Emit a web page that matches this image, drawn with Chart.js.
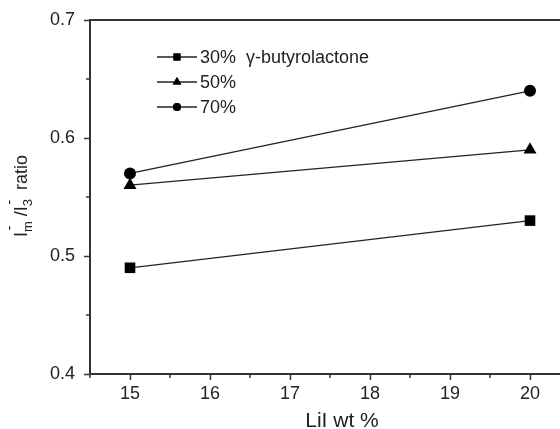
<!DOCTYPE html>
<html>
<head>
<meta charset="utf-8">
<script src="https://cdn.jsdelivr.net/npm/chart.js@4/dist/chart.umd.min.js"></script>
<style>
  html, body { margin: 0; padding: 0; background: #fff; overflow: hidden; }
  canvas { display: block; }
</style>
</head>
<body>
<canvas id="ratioChart" width="560" height="429"></canvas>
<script>
// data
const liiContent = [15, 20];
const ratio30 = [0.49, 0.53];
const ratio50 = [0.56, 0.59];
const ratio70 = [0.57, 0.64];
const seriesLabels = ['30%  \u03b3-butyrolactone', '50%', '70%'];
const seriesMarkers = ['rect', 'triangle', 'circle'];
const xTickValues = [15, 16, 17, 18, 19, 20];
const yTickValues = [0.4, 0.5, 0.6, 0.7];
const xMinorTicks = [14.5, 15.5, 16.5, 17.5, 18.5, 19.5];
const yMinorTicks = [0.45, 0.55, 0.65];
const xTitle = 'LiI wt %';

const ink = '#222';
const axisColor = '#333';
const fontFamily = '"Liberation Sans", Arial, sans-serif';
Chart.defaults.font.family = fontFamily;
Chart.defaults.font.size = 18;
Chart.defaults.color = ink;

function toPoints(values) {
    return liiContent.map((x, i) => ({ x: x, y: values[i] }));
}

const markerRadius = { rect: 7.5, triangle: 7.5, circle: 6 };

const datasets = [ratio30, ratio50, ratio70].map((values, i) => ({
    label: seriesLabels[i],
    data: toPoints(values),
    borderColor: ink,
    backgroundColor: '#000',
    borderWidth: 1.2,
    pointStyle: seriesMarkers[i],
    pointRadius: markerRadius[seriesMarkers[i]],
    pointBackgroundColor: '#000',
    pointBorderColor: '#000',
    pointBorderWidth: 0,
    tension: 0
}));

// minor ticks, legend with line-marker-line samples, axis titles
const decorPlugin = {
    id: 'decor',
    afterDraw(chart) {
        const ctx = chart.ctx;
        const xs = chart.scales.x;
        const ys = chart.scales.y;
        const area = chart.chartArea;
        ctx.save();
        ctx.strokeStyle = axisColor;
        ctx.lineWidth = 1.5;
        ctx.beginPath();
        xMinorTicks.forEach(v => {
            const px = Math.round(xs.getPixelForValue(v));
            ctx.moveTo(px, area.bottom);
            ctx.lineTo(px, area.bottom + 4);
        });
        yMinorTicks.forEach(v => {
            const py = Math.round(ys.getPixelForValue(v));
            ctx.moveTo(area.left, py);
            ctx.lineTo(area.left - 4, py);
        });
        ctx.stroke();

        // legend
        ctx.font = '18px ' + fontFamily;
        ctx.textBaseline = 'middle';
        ctx.textAlign = 'left';
        chart.data.datasets.forEach((ds, i) => {
            const y = 57 + i * 25;
            ctx.strokeStyle = ink;
            ctx.lineWidth = 1.5;
            ctx.beginPath();
            ctx.moveTo(157, y);
            ctx.lineTo(197, y);
            ctx.stroke();
            ctx.fillStyle = '#000';
            Chart.helpers.drawPoint(ctx, {
                pointStyle: ds.pointStyle,
                radius: ds.pointStyle === 'circle' ? 4 : 5,
                rotation: 0,
                borderWidth: 0
            }, 177, y);
            ctx.fill();
            ctx.fillStyle = ink;
            ctx.fillText(ds.label, 200, y + 1);
        });

        // x axis title
        ctx.font = '21px ' + fontFamily;
        ctx.textAlign = 'center';
        ctx.textBaseline = 'alphabetic';
        ctx.fillText(xTitle, 342, 427);

        // y axis title: I_m^- /I_3^- ratio
        const parts = [
            { t: 'I', size: 18, dy: 0 },
            { t: 'm', size: 13, dy: 5, stackMinus: true },
            { t: ' /I', size: 18, dy: 0 },
            { t: '3', size: 13, dy: 5, stackMinus: true },
            { t: ' ratio', size: 18, dy: 0, gap: 4 }
        ];
        let total = 0;
        parts.forEach(p => {
            ctx.font = p.size + 'px ' + fontFamily;
            p.w = ctx.measureText(p.t).width;
            total += p.w + (p.gap || 0);
        });
        ctx.translate(21, 196);
        ctx.rotate(-Math.PI / 2);
        ctx.textAlign = 'left';
        ctx.fillStyle = ink;
        let cx = -total / 2;
        parts.forEach(p => {
            cx += p.gap || 0;
            ctx.font = p.size + 'px ' + fontFamily;
            ctx.fillText(p.t, cx, 6 + p.dy);
            if (p.stackMinus) {
                ctx.font = '15px ' + fontFamily;
                ctx.fillText('-', cx + 1.5, -7);
            }
            cx += p.w;
        });
        ctx.restore();
    }
};

new Chart(document.getElementById('ratioChart').getContext('2d'), {
    type: 'line',
    data: { datasets: datasets },
    options: {
        responsive: false,
        animation: false,
        layout: { padding: 0, autoPadding: false },
        plugins: {
            legend: { display: false },
            tooltip: { enabled: false }
        },
        scales: {
            x: {
                type: 'linear',
                position: 'bottom',
                min: 14.5,
                max: 20.375,
                afterBuildTicks: scale => { scale.ticks = xTickValues.map(v => ({ value: v })); },
                afterFit: scale => { scale.height = 55; scale.paddingLeft = 0; scale.paddingRight = 0; },
                grid: { drawOnChartArea: false, drawTicks: true, tickLength: 6, tickWidth: 1.5, tickColor: axisColor },
                border: { display: true, width: 2, color: axisColor },
                ticks: { padding: 3, color: ink, maxRotation: 0, callback: v => String(v) }
            },
            xTop: {
                type: 'linear',
                position: 'top',
                min: 14.5,
                max: 20.375,
                afterFit: scale => { scale.height = 20; scale.paddingLeft = 0; scale.paddingRight = 0; },
                grid: { display: false },
                border: { display: true, width: 2, color: axisColor },
                ticks: { display: false }
            },
            y: {
                type: 'linear',
                position: 'left',
                min: 0.4,
                max: 0.7,
                afterBuildTicks: scale => { scale.ticks = yTickValues.map(v => ({ value: v })); },
                afterFit: scale => { scale.width = 90; },
                grid: { drawOnChartArea: false, drawTicks: true, tickLength: 6, tickWidth: 1.5, tickColor: axisColor },
                border: { display: true, width: 2, color: axisColor },
                ticks: { padding: 9, color: ink, callback: v => v.toFixed(1) }
            }
        }
    },
    plugins: [decorPlugin]
});
</script>
</body>
</html>
